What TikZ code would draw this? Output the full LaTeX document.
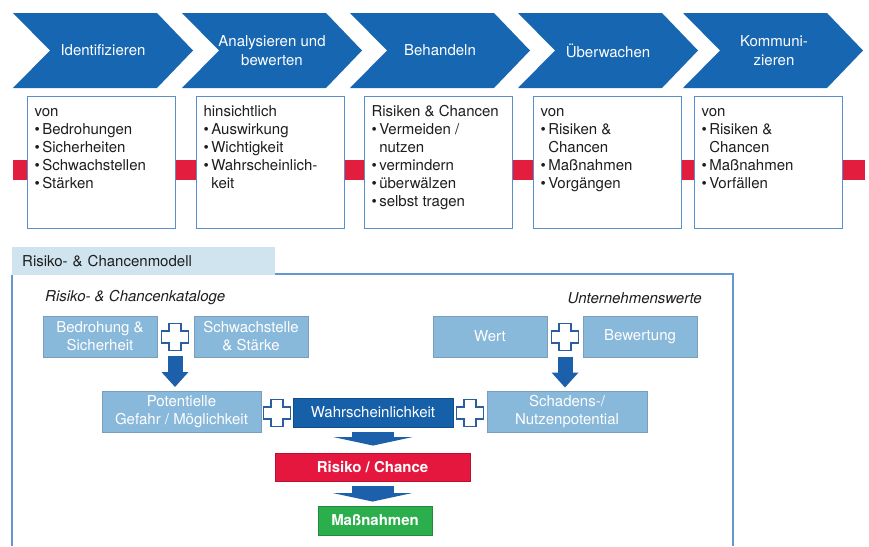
\documentclass[tikz,border=0pt]{standalone}
\usepackage{fontspec}
\setmainfont{TeX Gyre Heros}
\usetikzlibrary{positioning,arrows.meta,calc}
\definecolor{chevBlue}{HTML}{1766B1}
\definecolor{boxLine}{HTML}{5A8FCB}
\definecolor{barRed}{HTML}{E31D3E}
\definecolor{catFill}{HTML}{88B8DA}
\definecolor{catLine}{HTML}{7A9EBB}
\definecolor{darkFill}{HTML}{1660AA}
\definecolor{riskRed}{HTML}{E5173F}
\definecolor{measGreen}{HTML}{2BAE4C}
\definecolor{tabFill}{HTML}{D0E4EF}
\definecolor{frameLine}{HTML}{6496D2}
\definecolor{plusLine}{HTML}{2A5E9E}
\definecolor{arrowBlue}{HTML}{1C5FAA}
\definecolor{inkGray}{HTML}{1E1E1E}
\newcommand{\bul}{\textbullet\,}
\newcommand{\cnt}{\phantom{\textbullet\,}}
\tikzset{
    chevron/.style={fill=chevBlue},
    chevtext/.style={text=white,align=center,font=\fontsize{15}{19}\selectfont},
    infobox/.style={draw=boxLine,fill=white,line width=1.1pt,inner sep=7pt,
        text=inkGray,font=\fontsize{15}{18}\selectfont},
    catbox/.style={draw=catLine,fill=catFill,line width=0.9pt,text=white,
        align=center,minimum width=114pt,minimum height=41pt,inner sep=2pt,
        font=\fontsize{15}{18}\selectfont},
    widecat/.style={catbox,minimum width=159pt},
    darkbox/.style={draw=darkFill!80!black,fill=darkFill,line width=0.9pt,text=white,
        align=center,minimum width=160pt,minimum height=29pt,inner sep=2pt,
        font=\fontsize{15}{18}\selectfont},
    riskbox/.style={draw=riskRed!80!black,fill=riskRed,line width=0.9pt,text=white,
        minimum width=195pt,minimum height=28pt,inner sep=2pt,
        font=\fontsize{15}{18}\selectfont\bfseries},
    measbox/.style={draw=measGreen!80!black,fill=measGreen,line width=0.9pt,text=white,
        minimum width=114pt,minimum height=29pt,inner sep=2pt,
        font=\fontsize{15}{18}\selectfont\bfseries},
    tablabel/.style={fill=tabFill,text=inkGray,text width=243pt,inner xsep=10pt,
        minimum height=28pt,align=left,font=\fontsize{15}{18}\selectfont},
    caption/.style={text=inkGray,inner sep=0pt,font=\fontsize{15}{18}\selectfont\itshape},
    frame/.style={draw=frameLine,line width=1.2pt},
    downarrow/.style={draw=arrowBlue,line width=15pt,-{Triangle[width=26pt,length=15pt]}},
    widearrow/.style={draw=arrowBlue,line width=42pt,-{Triangle[width=79pt,length=8.5pt]}},
    plussign/.pic={
        \draw[plusLine,fill=white,line width=1.2pt] (-6,-13.5) -- (6,-13.5) -- (6,-6)
            -- (13.5,-6) -- (13.5,6) -- (6,6) -- (6,13.5) -- (-6,13.5) -- (-6,6)
            -- (-13.5,6) -- (-13.5,-6) -- (-6,-6) -- cycle;
    }
}
\begin{document}
\begin{tikzpicture}[x=1pt,y=-1pt]
    \useasboundingbox (0,0) rectangle (869,546);
    % process chevrons
    \fill[chevron] (13,13) -- ++(144,0) -- ++(36,37.5) -- ++(-36,37.5) -- ++(-144,0) -- ++(37,-37.5) -- cycle;
    \fill[chevron] (182,13) -- ++(144,0) -- ++(36,37.5) -- ++(-36,37.5) -- ++(-144,0) -- ++(37,-37.5) -- cycle;
    \fill[chevron] (350,13) -- ++(144,0) -- ++(36,37.5) -- ++(-36,37.5) -- ++(-144,0) -- ++(37,-37.5) -- cycle;
    \fill[chevron] (518,13) -- ++(144,0) -- ++(36,37.5) -- ++(-36,37.5) -- ++(-144,0) -- ++(37,-37.5) -- cycle;
    \fill[chevron] (683,13) -- ++(144,0) -- ++(36,37.5) -- ++(-36,37.5) -- ++(-144,0) -- ++(37,-37.5) -- cycle;
    \node[chevtext] (stepident) at (103,50.5) {Identifizieren};
    \node[chevtext] (stepanalyse) at (272,50.5) {Analysieren und\\bewerten};
    \node[chevtext] (steptreat) at (440,50.5) {Behandeln};
    \node[chevtext] (stepmonitor) at (608,50.5) {Überwachen};
    \node[chevtext] (stepcomm) at (774,50.5) {Kommuni-\\zieren};
    % red band behind the boxes
    \fill[barRed] (13,160) rectangle (865,180);
    \node[infobox,anchor=north west] (boxident) at (27,96) {
        \begin{minipage}[t][118pt][t]{134pt}
            \raggedright\strut von\\
            \bul Bedrohungen\\
            \bul Sicherheiten\\
            \bul Schwachstellen\\
            \bul Stärken
        \end{minipage}
    };
    \node[infobox,anchor=north west] (boxanalyse) at (196,96) {
        \begin{minipage}[t][118pt][t]{134pt}
            \raggedright\strut hinsichtlich\\
            \bul Auswirkung\\
            \bul Wichtigkeit\\
            \bul Wahrscheinlich-\\
            \cnt keit
        \end{minipage}
    };
    \node[infobox,anchor=north west] (boxtreat) at (364,96) {
        \begin{minipage}[t][118pt][t]{134pt}
            \raggedright\strut Risiken \& Chancen\\
            \bul Vermeiden /\\
            \cnt nutzen\\
            \bul vermindern\\
            \bul überwälzen\\
            \bul selbst tragen
        \end{minipage}
    };
    \node[infobox,anchor=north west] (boxmonitor) at (533,96) {
        \begin{minipage}[t][118pt][t]{134pt}
            \raggedright\strut von\\
            \bul Risiken \&\\
            \cnt Chancen\\
            \bul Maßnahmen\\
            \bul Vorgängen
        \end{minipage}
    };
    \node[infobox,anchor=north west] (boxcomm) at (694,96) {
        \begin{minipage}[t][118pt][t]{134pt}
            \raggedright\strut von\\
            \bul Risiken \&\\
            \cnt Chancen\\
            \bul Maßnahmen\\
            \bul Vorfällen
        \end{minipage}
    };
    % risk and opportunity model
    \node[tablabel,anchor=north west] (modeltab) at (12,247) {Risiko- \& Chancenmodell};
    \draw[frame] (12,275) -- (12,546);
    \draw[frame] (275,274) -- (733,274) -- (733,546);
    \node[caption,anchor=west] (catalogues) at (45,298) {Risiko- \& Chancenkataloge};
    \node[caption,anchor=east] (values) at (702,298) {Unternehmenswerte};
    \node[catbox] (threat) at (100,336.5) {Bedrohung \&\\Sicherheit};
    \node[catbox] (weakness) at (251,336.5) {Schwachstelle\\\& Stärke};
    \node[catbox] (assetvalue) at (490,336.5) {Wert};
    \node[catbox] (rating) at (640,336.5) {Bewertung};
    \node[widecat] (potential) at (181.5,412) {Potentielle\\Gefahr / Möglichkeit};
    \node[darkbox] (likelihood) at (373,412.5) {Wahrscheinlichkeit};
    \node[widecat,minimum width=160pt] (damage) at (567,411.5) {Schadens-/\\Nutzenpotential};
    \node[riskbox] (risk) at (372.5,467) {Risiko / Chance};
    \node[measbox] (measures) at (375,520.5) {Maßnahmen};
    \coordinate (plusleft) at (175,337);
    \coordinate (plusright) at (565,337);
    \coordinate (pluspot) at (277,413);
    \coordinate (plusdamage) at (470,413);
    \pic at (plusleft) {plussign};
    \pic at (plusright) {plussign};
    \pic at (pluspot) {plussign};
    \pic at (plusdamage) {plussign};
    \draw[downarrow,shorten <=19pt,shorten >=4pt] (plusleft) -- (plusleft |- potential.north);
    \draw[downarrow,shorten <=20pt,shorten >=3pt] (plusright) -- (plusright |- damage.north);
    \draw[widearrow,shorten <=5pt,shorten >=7pt] (likelihood.south) -- (likelihood.south |- risk.north);
    \draw[widearrow,shorten <=5pt,shorten >=4pt] (risk.south) -- (risk.south |- measures.north);
\end{tikzpicture}
\end{document}
